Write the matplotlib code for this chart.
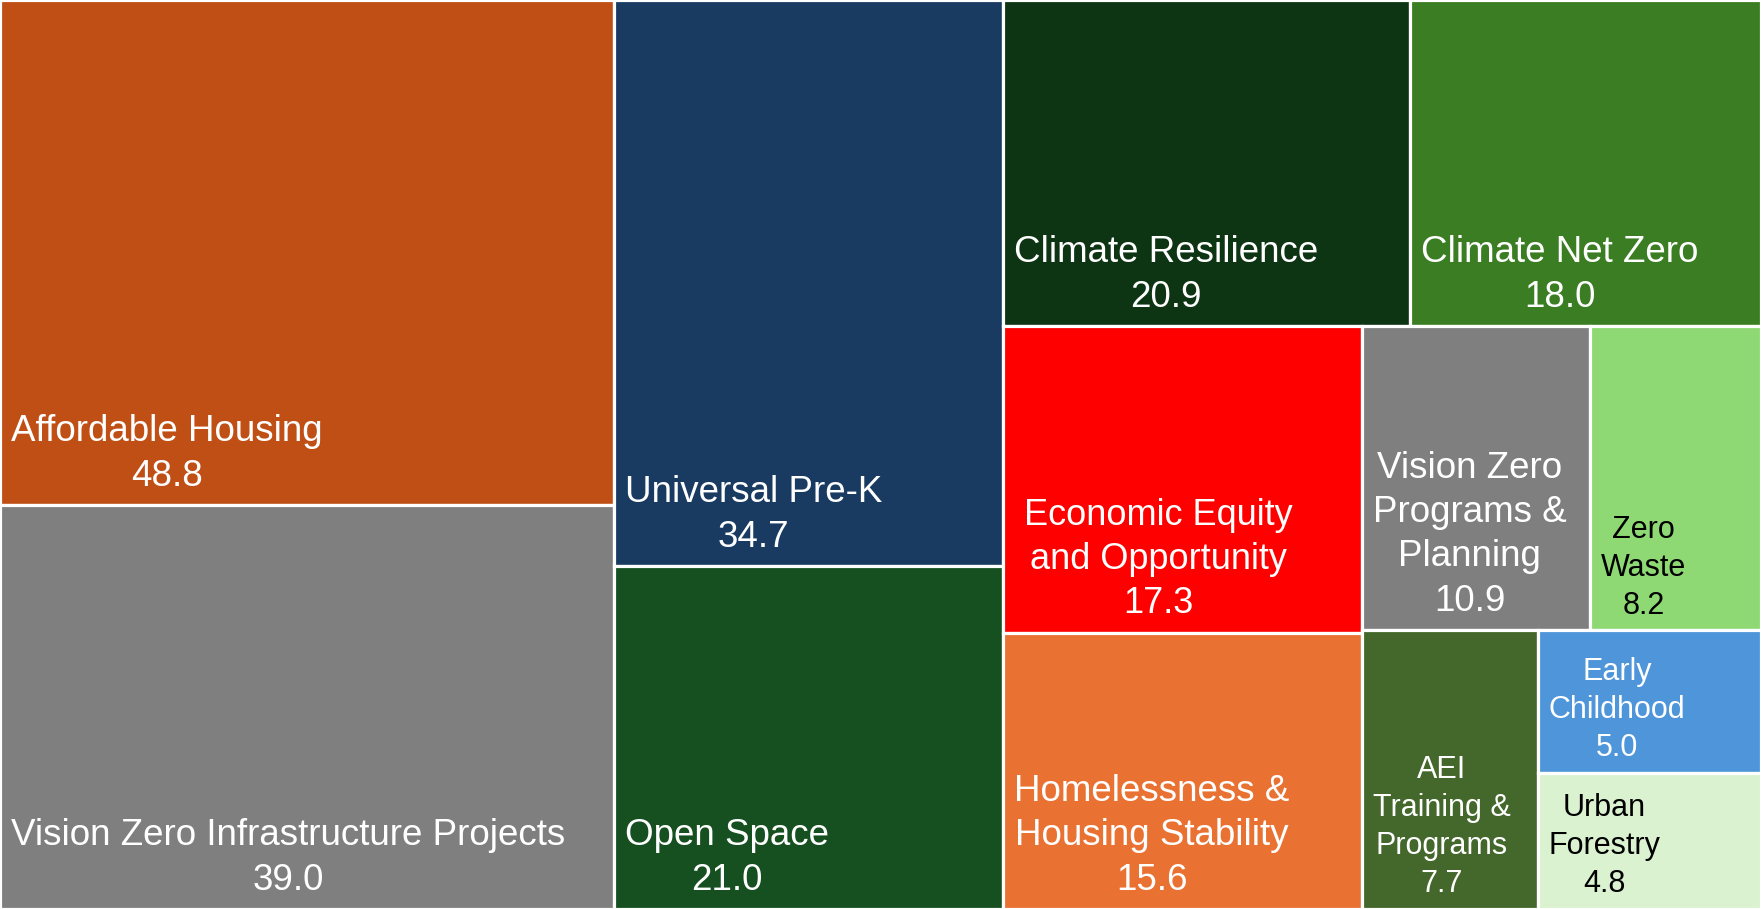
import matplotlib
matplotlib.use('Agg')
import matplotlib.pyplot as plt
from matplotlib.patches import Rectangle

# data
labels = ['Affordable Housing', 'Vision Zero Infrastructure Projects', 'Universal Pre-K',
          'Open Space', 'Climate Resilience', 'Climate Net Zero',
          'Economic Equity\nand Opportunity', 'Homelessness &\nHousing Stability',
          'Vision Zero\nPrograms &\nPlanning', 'Zero\nWaste', 'AEI\nTraining &\nPrograms',
          'Early\nChildhood', 'Urban\nForestry']
values = [48.8, 39.0, 34.7, 21.0, 20.9, 18.0, 17.3, 15.6, 10.9, 8.2, 7.7, 5.0, 4.8]

# styles
colors = ['#C04F15', '#7F7F7F', '#193B62', '#165020', '#0D3513', '#3B7D23', '#FF0000',
          '#E97132', '#7F7F7F', '#8ED973', '#44672B', '#4E95D9', '#DAF2D0']
text_colors = ['white'] * 9 + ['black', 'white', 'white', 'black']
font_sizes = [26.5, 26.5, 26.5, 26.5, 26.5, 26.5, 26, 26.5, 26.5, 22, 22, 22, 22]
left_pad = {6: 21}

W, H = 1761, 909


# squarified treemap layout (Bruls et al.)
def layout(sizes, x, y, dx, dy):
    out = []
    if dx >= dy:
        width = sum(sizes) / dy
        for s in sizes:
            out.append((x, y, width, s / width))
            y += s / width
    else:
        height = sum(sizes) / dx
        for s in sizes:
            out.append((x, y, s / height, height))
            x += s / height
    return out


def leftover(sizes, x, y, dx, dy):
    if dx >= dy:
        width = sum(sizes) / dy
        return x + width, y, dx - width, dy
    height = sum(sizes) / dx
    return x, y + height, dx, dy - height


def worst(sizes, x, y, dx, dy):
    return max(max(w / h, h / w) for _, _, w, h in layout(sizes, x, y, dx, dy))


def squarify(sizes, x, y, dx, dy):
    if not sizes:
        return []
    if len(sizes) == 1:
        return layout(sizes, x, y, dx, dy)
    i = 1
    while i < len(sizes) and worst(sizes[:i], x, y, dx, dy) >= worst(sizes[:i + 1], x, y, dx, dy):
        i += 1
    cur, rest = sizes[:i], sizes[i:]
    return layout(cur, x, y, dx, dy) + squarify(rest, *leftover(cur, x, y, dx, dy))


total = sum(values)
areas = [v * W * H / total for v in values]
rects = squarify(areas, 0, 0, W, H)

fig = plt.figure(figsize=(W / 100, H / 100), dpi=100)
ax = fig.add_axes([0, 0, 1, 1])
ax.set_xlim(0, W)
ax.set_ylim(H, 0)
ax.axis('off')

for i, (x, y, w, h) in enumerate(rects):
    ax.add_patch(Rectangle((x, y), w, h, facecolor=colors[i], edgecolor='white', linewidth=2.3))
    fs = font_sizes[i]
    # baseline of last line sits a bit higher for the bigger labels
    base = 16 + (fs - 22) * 0.7
    descent = 0.21 * fs * 100 / 72
    ax.annotate(f'{labels[i]}\n{values[i]:.1f}', xy=(x, y + h),
                xytext=(left_pad.get(i, 11), base - descent), textcoords='offset pixels',
                ha='left', va='bottom', multialignment='center', linespacing=1.35,
                fontsize=fs, color=text_colors[i], family=['Liberation Sans', 'DejaVu Sans'])

fig.savefig('out.png', dpi=100)
